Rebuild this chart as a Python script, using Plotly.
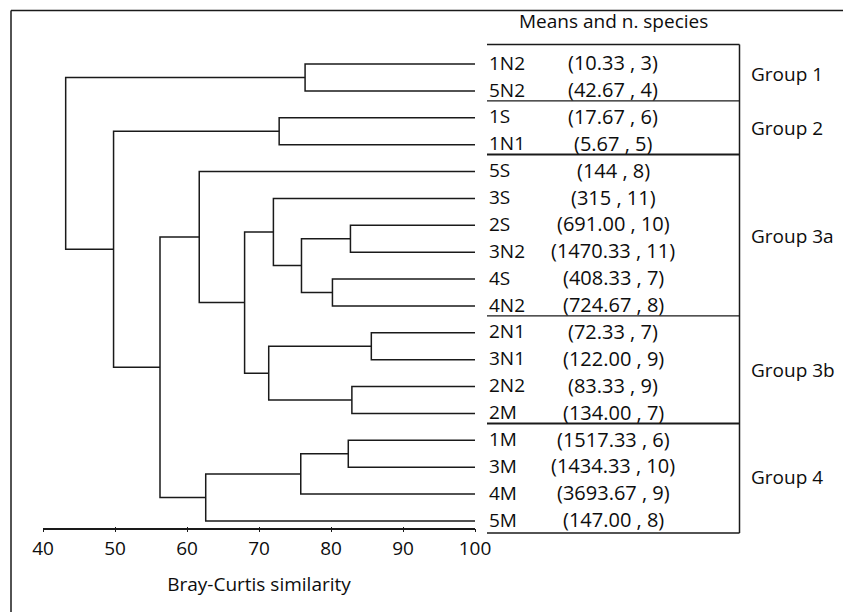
import plotly.graph_objects as go

# ---------------- data ----------------
leaves = ["1N2", "5N2", "1S", "1N1", "5S", "3S", "2S", "3N2", "4S", "4N2",
          "2N1", "3N1", "2N2", "2M", "1M", "3M", "4M", "5M"]
means = ["10.33", "42.67", "17.67", "5.67", "144", "315", "691.00", "1470.33",
         "408.33", "724.67", "72.33", "122.00", "83.33", "134.00", "1517.33",
         "1434.33", "3693.67", "147.00"]
n_species = [3, 4, 6, 5, 8, 11, 10, 11, 7, 8, 7, 9, 9, 7, 6, 10, 9, 8]

# merges: (name, left child, right child, Bray-Curtis similarity)
merge_names = ["m1", "m2", "m3", "m4", "m5", "m6", "m7", "m8", "m9",
               "m10", "m11", "m12", "m13", "m14", "m15", "m16", "m17"]
merge_left = ["1N2", "1S", "2S", "4S", "m3", "3S", "2N1", "2N2", "m7",
              "m6", "5S", "1M", "m12", "m13", "m11", "m2", "m1"]
merge_right = ["5N2", "1N1", "3N2", "4N2", "m4", "m5", "3N1", "2M", "m8",
               "m9", "m10", "3M", "4M", "5M", "m14", "m15", "m16"]
merge_sim = [76.4, 72.8, 82.7, 80.2, 75.9, 72.0, 85.6, 82.9, 71.35,
             68.0, 61.7, 82.4, 75.8, 62.6, 56.25, 49.8, 43.15]

group_names = ["Group 1", "Group 2", "Group 3a", "Group 3b", "Group 4"]
group_first = [0, 2, 4, 10, 14]
group_last = [1, 3, 9, 13, 17]

x_ticks = [40, 50, 60, 70, 80, 90, 100]

# ---------------- geometry from tree ----------------
W, H = 843, 612
pos_y = {name: i for i, name in enumerate(leaves)}
pos_x = {name: 100.0 for name in leaves}
for nm, a, b, s in zip(merge_names, merge_left, merge_right, merge_sim):
    pos_y[nm] = (pos_y[a] + pos_y[b]) / 2.0
    pos_x[nm] = s

xs, ys = [], []
for nm, a, b, s in zip(merge_names, merge_left, merge_right, merge_sim):
    xs += [pos_x[a], s, s, pos_x[b], None]
    ys += [pos_y[a], pos_y[a], pos_y[b], pos_y[b], None]

LINE = "#1a1a1a"
TXT = "#0d0d0d"
FONT = "Open Sans"

fig = go.Figure()
fig.add_trace(go.Scatter(x=xs, y=ys, mode="lines",
                         line=dict(color=LINE, width=1.5),
                         hoverinfo="skip", showlegend=False))
fig.add_trace(go.Scatter(x=[40, 100], y=[0, 0], xaxis="x2", mode="markers",
                         marker=dict(opacity=0), hoverinfo="skip",
                         showlegend=False))

def px(xpix):
    return xpix / W

ann = []
for i, (lab, m, n) in enumerate(zip(leaves, means, n_species)):
    ann.append(dict(x=px(487), y=i - 0.05, xref="paper", yref="y", text=lab,
                    xanchor="left", yanchor="middle", showarrow=False,
                    font=dict(family=FONT, size=19, color=TXT)))
    ann.append(dict(x=px(613), y=i - 0.05, xref="paper", yref="y",
                    text=f"({m} , {n})", xanchor="center", yanchor="middle",
                    showarrow=False,
                    font=dict(family=FONT, size=20, color=TXT)))
for g, f, l in zip(group_names, group_first, group_last):
    ann.append(dict(x=px(749), y=(f + l) / 2.0 - 0.12, xref="paper", yref="y",
                    text=g, xanchor="left", yanchor="middle", showarrow=False,
                    font=dict(family=FONT, size=19, color=TXT)))
ann.append(dict(x=px(613.5), y=-1.6, xref="paper", yref="y",
                text="Means and n. species", xanchor="center",
                yanchor="middle", showarrow=False,
                font=dict(family=FONT, size=19, color=TXT)))

shapes = []
shapes.append(dict(type="line", xref="paper", yref="paper", x0=px(11), x1=1,
                   y0=1 - 10.5 / H, y1=1 - 10.5 / H,
                   line=dict(color=LINE, width=1.5)))
shapes.append(dict(type="line", xref="paper", yref="paper", x0=px(11),
                   x1=px(11), y0=0, y1=1 - 10.5 / H,
                   line=dict(color=LINE, width=1.5)))
top_y = -0.73
bot_y = 17.45
shapes.append(dict(type="line", xref="paper", yref="y", x0=px(487),
                   x1=px(739.5), y0=top_y, y1=top_y,
                   line=dict(color=LINE, width=1.5)))
shapes.append(dict(type="line", xref="paper", yref="y", x0=px(487),
                   x1=px(739.5), y0=bot_y, y1=bot_y,
                   line=dict(color=LINE, width=1.5)))
shapes.append(dict(type="line", xref="paper", yref="y", x0=px(739.5),
                   x1=px(739.5), y0=top_y, y1=bot_y,
                   line=dict(color=LINE, width=1.5)))
sep_w = [1.2, 2.0, 1.2, 2.0]
for l, w in zip(group_last[:-1], sep_w):
    yy = l + 0.37
    shapes.append(dict(type="line", xref="paper", yref="y", x0=px(487),
                       x1=px(739.5), y0=yy, y1=yy,
                       line=dict(color=LINE, width=w)))

axis_pos = 1 - 528.7 / H
dom = [43 / W, 475 / W]
slope = 26.88
y_top = 0 - 64 / slope
y_bot = 17 + (H - 521) / slope

fig.update_layout(
    template="none",
    width=W, height=H, autosize=False,
    margin=dict(l=0, r=0, t=0, b=0, pad=0, autoexpand=False),
    paper_bgcolor="white", plot_bgcolor="white",
    showlegend=False,
    font=dict(family=FONT, color=TXT),
    xaxis=dict(domain=dom, range=[40, 100], anchor="free", position=axis_pos,
               automargin=False,
               showline=True, linecolor=LINE, linewidth=1.5,
               ticks="outside", ticklen=3, tickwidth=1.3, tickcolor=LINE,
               tickvals=x_ticks, showgrid=False, zeroline=False,
               tickfont=dict(family=FONT, size=19, color=TXT),
               title=dict(text="Bray-Curtis similarity", standoff=16,
                          font=dict(family=FONT, size=19, color=TXT))),
    xaxis2=dict(domain=dom, range=[40, 100], anchor="free",
                position=axis_pos, overlaying="x", showline=False,
                automargin=False,
                ticks="inside", ticklen=2, tickwidth=1.3, tickcolor=LINE,
                tickvals=x_ticks, showticklabels=False, showgrid=False,
                zeroline=False),
    yaxis=dict(domain=[0, 1], range=[y_bot, y_top], visible=False,
               automargin=False, showgrid=False, zeroline=False),
    annotations=ann,
    shapes=shapes,
)

fig.write_html("out.html", config={"responsive": False})
